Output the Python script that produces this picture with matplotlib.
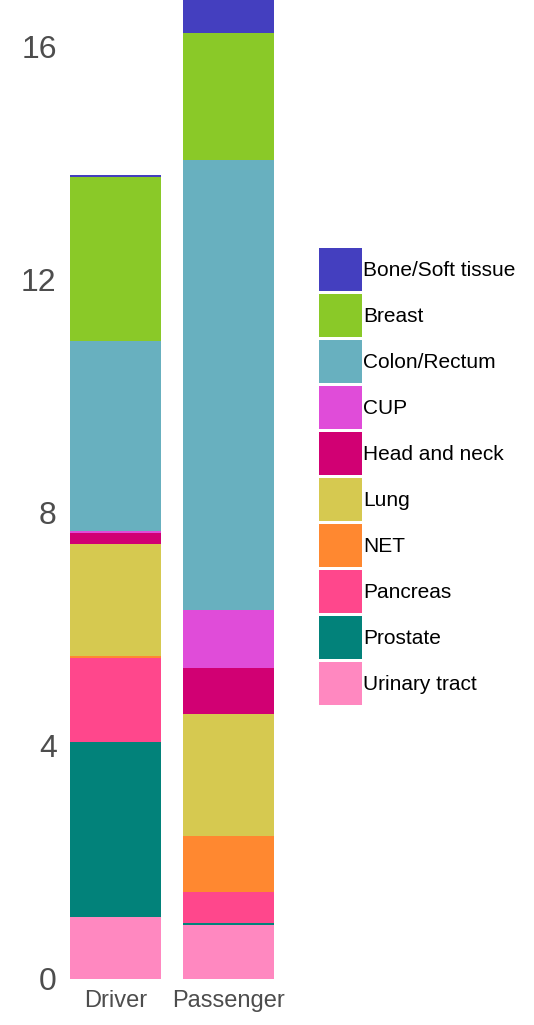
import matplotlib
matplotlib.use("Agg")
import matplotlib.pyplot as plt

plt.rcParams["font.family"] = ["Liberation Sans", "DejaVu Sans"]

# categories on the x axis
groups = ["Driver", "Passenger"]

# tumour types, listed in legend order (top of stack first)
tumour_types = ["Bone/Soft tissue", "Breast", "Colon/Rectum", "CUP", "Head and neck",
                "Lung", "NET", "Pancreas", "Prostate", "Urinary tract"]

colours = ["#443FBF", "#8AC928", "#68B0BF", "#E04CD9", "#D10073",
           "#D6C950", "#FF8830", "#FF478C", "#02827A", "#FF88C0"]

# values per tumour type, [Driver, Passenger]
bone = [0.025, 0.80]
breast = [2.83, 2.18]
colon = [3.26, 7.72]
cup = [0.02, 1.00]
head_neck = [0.195, 0.79]
lung = [1.92, 2.09]
net = [0.035, 0.96]
pancreas = [1.45, 0.54]
prostate = [3.00, 0.03]
urinary = [1.06, 0.925]

series = [bone, breast, colon, cup, head_neck, lung, net, pancreas, prostate, urinary]
y_ticks = [0, 4, 8, 12, 16]

fig = plt.figure(figsize=(5.34, 10.25), dpi=100)
ax = fig.add_axes([62 / 534, 46 / 1025, 221 / 534, 979 / 1025])

x = list(range(len(groups)))
bottom = [0.0] * len(groups)
handles = []
# stack from the bottom up: last legend entry sits at the base
for name, vals, col in zip(tumour_types[::-1], series[::-1], colours[::-1]):
    b = ax.bar(x, vals, width=0.805, bottom=bottom, color=col, label=name, linewidth=0)
    handles.append(b)
    bottom = [bt + v for bt, v in zip(bottom, vals)]

ax.set_xlim(-0.4735, 1.4823)
ax.set_ylim(0, 16.80)
ax.set_xticks(x)
ax.set_xticklabels(groups)
ax.set_yticks(y_ticks)
ax.tick_params(axis="x", length=0, pad=8, labelsize=17, labelcolor="#4D4D4D")
ax.tick_params(axis="y", length=0, pad=3.8, labelsize=23, labelcolor="#4D4D4D")
for s in ax.spines.values():
    s.set_visible(False)

lfs = 15
fs = lfs * 100 / 72
fig.legend(handles[::-1], tumour_types, loc="upper left",
           bbox_to_anchor=(319 / 534, 1 - 248 / 1025), frameon=False,
           fontsize=lfs, borderpad=0, borderaxespad=0,
           handlelength=43 / fs, handleheight=(43 / fs - 0.245) / 0.65,
           labelspacing=3 / fs, handletextpad=1 / fs)

fig.savefig("out.png", dpi=100)
